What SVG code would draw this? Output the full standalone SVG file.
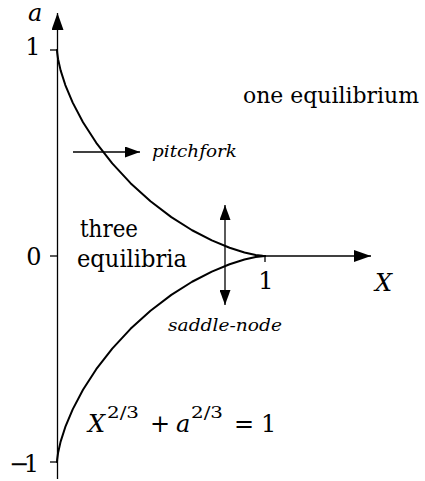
<svg xmlns="http://www.w3.org/2000/svg" width="425" height="481" viewBox="0 0 425 481">
<defs>
<style>
.ax{stroke:#000;stroke-width:1.3;fill:none}
.cv{stroke:#000;stroke-width:2;fill:none;stroke-linejoin:round;stroke-linecap:round}
.ar{stroke:#000;stroke-width:1.3;fill:none}
text{font-family:"DejaVu Serif","Liberation Serif",serif;font-size:24px;fill:#000}
.i{font-style:italic}
.s{font-size:17px}
.m{font-size:21.5px}
</style>
<marker id="big" viewBox="0 0 17 12" refX="17" refY="6" markerWidth="17" markerHeight="12" markerUnits="userSpaceOnUse" orient="auto-start-reverse">
<path d="M0,0 L17,6 L0,12 Z" fill="#000"/>
</marker>
<marker id="sm" viewBox="0 0 15 11" refX="15" refY="5.5" markerWidth="15" markerHeight="11" markerUnits="userSpaceOnUse" orient="auto-start-reverse">
<path d="M0,0 L15,5.5 L0,11 Z" fill="#000"/>
</marker>
</defs>
<g id="connectors">
<line id="axis-a" class="ax" x1="57.5" y1="479" x2="57.5" y2="13" marker-end="url(#big)"/>
<line id="axis-X" class="ax" x1="265" y1="256" x2="371" y2="256" marker-end="url(#big)"/>
<line class="ax" x1="50" y1="50" x2="57.5" y2="50"/>
<line class="ax" x1="50" y1="256" x2="57.5" y2="256"/>
<line class="ax" x1="50" y1="462" x2="57.5" y2="462"/>
<line class="ax" x1="265" y1="256" x2="265" y2="262"/>
<line id="arrow-pitchfork" class="ar" x1="73" y1="152" x2="140" y2="152" marker-end="url(#sm)"/>
<line id="arrow-saddle" class="ar" x1="225" y1="205" x2="225" y2="305" marker-start="url(#sm)" marker-end="url(#sm)"/>
</g>
<g id="curve-upper">
<path class="cv" d="M57,50 L57.14,52.34 L58.09,59.25 L60.61,70.35 L65.32,85.07 L72.7,102.65 L83,122.2 L96.25,142.77 L112.24,163.4 L130.54,183.17 L150.5,201.29 L171.33,217.13 L192.1,230.25 L211.84,240.45 L229.59,247.76 L244.45,252.43 L255.66,254.92 L262.63,255.86 L265,256"/>
</g>
<g id="curve-lower">
<path class="cv" d="M57,462 L57.14,459.66 L58.09,452.75 L60.61,441.65 L65.32,426.93 L72.7,409.35 L83,389.8 L96.25,369.23 L112.24,348.6 L130.54,328.83 L150.5,310.71 L171.33,294.87 L192.1,281.75 L211.84,271.55 L229.59,264.24 L244.45,259.57 L255.66,257.08 L262.63,256.14 L265,256"/>
</g>
<g id="labels-axes">
<text class="i" x="28" y="21">a</text>
<text x="33" y="55" text-anchor="middle">1</text>
<text x="34" y="265" text-anchor="middle">0</text>
<text x="9" y="472" textLength="30">−1</text>
<text x="266" y="289" text-anchor="middle">1</text>
<text class="i" x="375" y="291">X</text>
</g>
<g id="region-one">
<text class="m" x="243" y="103" textLength="176" lengthAdjust="spacingAndGlyphs">one equilibrium</text>
</g>
<g id="region-three">
<text x="80" y="237" textLength="58" lengthAdjust="spacingAndGlyphs">three</text>
<text x="77" y="267" textLength="110" lengthAdjust="spacingAndGlyphs">equilibria</text>
</g>
<g id="label-pitchfork">
<text class="i s" x="152" y="157" textLength="85" lengthAdjust="spacingAndGlyphs">pitchfork</text>
</g>
<g id="label-saddle">
<text class="i s" x="168" y="331" textLength="114" lengthAdjust="spacingAndGlyphs">saddle-node</text>
</g>
<g id="equation">
<text class="i" x="88" y="432">X</text>
<text class="s" x="107" y="418" textLength="32" lengthAdjust="spacingAndGlyphs">2/3</text>
<text x="150" y="432">+</text>
<text class="i" x="176" y="432">a</text>
<text class="s" x="191" y="418" textLength="32" lengthAdjust="spacingAndGlyphs">2/3</text>
<text x="234" y="432">=</text>
<text x="261" y="432">1</text>
</g>
</svg>
